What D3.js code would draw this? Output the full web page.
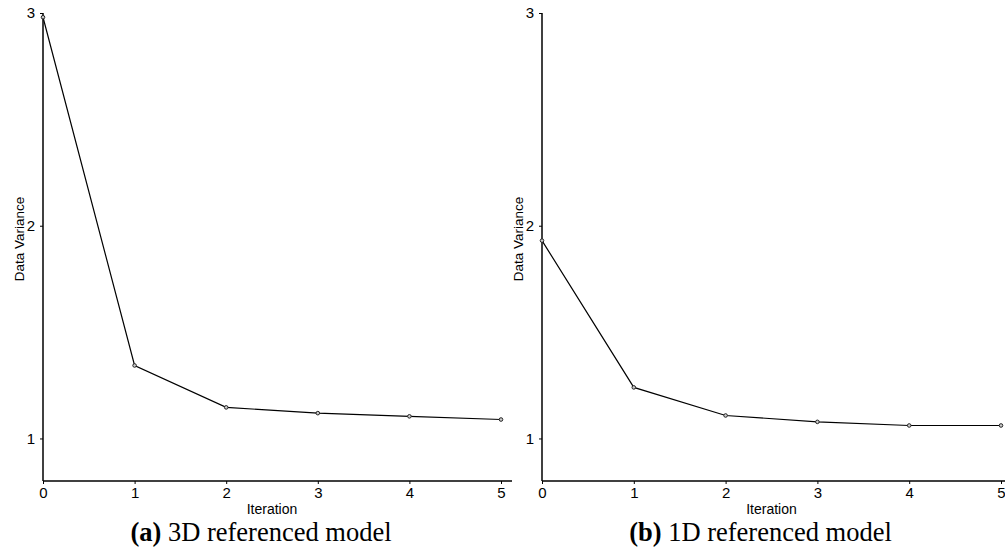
<!DOCTYPE html>
<html>
<head>
<meta charset="utf-8">
<script src="https://cdn.jsdelivr.net/npm/d3@7"></script>
<style>
  body { margin: 0; background: #fff; }
  svg { display: block; }
</style>
</head>
<body>
<div id="chart"></div>
<script>
// Data
const iterations = [0, 1, 2, 3, 4, 5];
const variance3D = [2.98, 1.343, 1.146, 1.119, 1.104, 1.089];
const variance1D = [1.93, 1.24, 1.108, 1.078, 1.061, 1.061];
const yTicks = [1, 2, 3];
const captions = [["(a)", " 3D referenced model"], ["(b)", " 1D referenced model"]];

const width = 1005;
const height = 554;

const svg = d3.select("#chart")
  .append("svg")
  .attr("width", width)
  .attr("height", height)
  .attr("viewBox", [0, 0, width, height]);

const y = d3.scaleLinear()
  .domain([0.8, 3])
  .range([481, 13]);

function drawPanel(values, left, right, axisEnd, caption) {
  const x = d3.scaleLinear()
    .domain([0, 5])
    .range([left, right]);

  const g = svg.append("g");

  // x axis
  const xAxis = g.append("g")
    .attr("transform", `translate(0,${y(0.8)})`)
    .call(d3.axisBottom(x).tickValues(iterations).tickSize(3).tickPadding(3).tickFormat(d3.format("d")));
  xAxis.select(".domain")
    .attr("d", `M${left},0H${axisEnd}`)
    .attr("stroke-width", 1.5);
  xAxis.selectAll("text")
    .style("font-family", "Liberation Sans, Arial, sans-serif")
    .style("font-size", "15px")
    .attr("fill", "#000");

  // y axis
  const yAxis = g.append("g")
    .attr("transform", `translate(${left},0)`)
    .call(d3.axisLeft(y).tickValues(yTicks).tickSize(3).tickPadding(5).tickFormat(d3.format("d")));
  yAxis.select(".domain")
    .attr("d", `M0,${y(3)}V${y(0.8)}`)
    .attr("stroke-width", 1.5);
  yAxis.selectAll("text")
    .style("font-family", "Liberation Sans, Arial, sans-serif")
    .style("font-size", "15px")
    .attr("fill", "#000");

  // labels
  g.append("text")
    .attr("x", (left + right) / 2)
    .attr("y", 514)
    .attr("text-anchor", "middle")
    .style("font-family", "Liberation Sans, Arial, sans-serif")
    .style("font-size", "14px")
    .text("Iteration");

  g.append("text")
    .attr("transform", `translate(${left - 19},239) rotate(-90)`)
    .attr("text-anchor", "middle")
    .style("font-family", "Liberation Sans, Arial, sans-serif")
    .style("font-size", "13.5px")
    .text("Data Variance");

  // line
  const line = d3.line()
    .x((d, i) => x(iterations[i]))
    .y(d => y(d));

  g.append("path")
    .datum(values)
    .attr("fill", "none")
    .attr("stroke", "#000")
    .attr("stroke-width", 1.2)
    .attr("d", line);

  g.selectAll("circle")
    .data(values)
    .join("circle")
    .attr("cx", (d, i) => x(iterations[i]))
    .attr("cy", d => y(d))
    .attr("r", 1.8)
    .attr("fill", "#ccc")
    .attr("stroke", "#222")
    .attr("stroke-width", 1);

  // caption
  const cap = g.append("text")
    .attr("x", (left + right) / 2 - 11)
    .attr("y", 541)
    .attr("text-anchor", "middle")
    .style("font-family", "Liberation Serif, Times New Roman, serif")
    .style("font-size", "26.5px");
  cap.append("tspan").attr("font-weight", "bold").text(caption[0]);
  cap.append("tspan").text(caption[1]);
}

drawPanel(variance3D, 43, 501, 512, captions[0]);
drawPanel(variance1D, 542, 1001, 1005, captions[1]);
</script>
</body>
</html>
